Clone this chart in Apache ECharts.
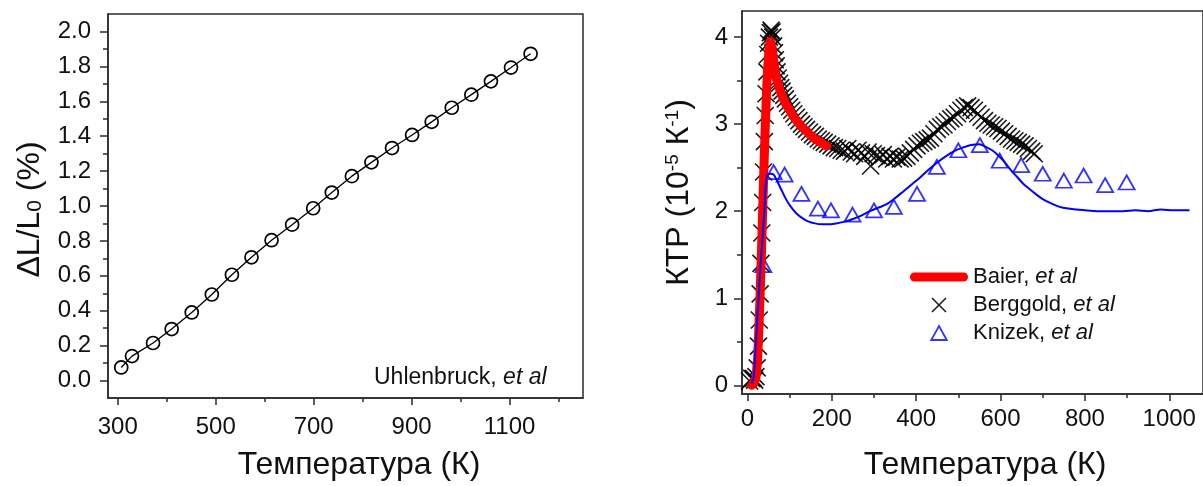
<!DOCTYPE html>
<html>
<head>
<meta charset="utf-8">
<script src="https://cdn.jsdelivr.net/npm/echarts@6/dist/echarts.min.js"></script>
<style>
html,body{margin:0;padding:0;background:#fff;}
#c{width:1203px;height:486px;}
</style>
</head>
<body>
<div id="c"></div>
<script>
// ---------- Left panel: Uhlenbruck, et al ----------
var uhlT  = [307, 329, 372, 410, 451, 492, 533, 573, 614, 656, 699, 737, 778, 818, 860, 901, 941, 982, 1022, 1062, 1103, 1143];
var uhlDL = [0.075, 0.14, 0.215, 0.295, 0.39, 0.493, 0.606, 0.706, 0.804, 0.893, 0.987, 1.077, 1.171, 1.25, 1.332, 1.407, 1.482, 1.563, 1.638, 1.714, 1.793, 1.872];

var leftXMajor = [300, 500, 700, 900, 1100];
var leftXMinor = [400, 600, 800, 1000, 1200];
var leftYMajor = [0, 0.2, 0.4, 0.6, 0.8, 1.0, 1.2, 1.4, 1.6, 1.8, 2.0];
var leftYMinor = [0.1, 0.3, 0.5, 0.7, 0.9, 1.1, 1.3, 1.5, 1.7, 1.9];

// ---------- Right panel ----------
var baierT = [10, 15, 20, 24, 27, 30, 33, 36, 39, 42, 45, 48, 51, 54, 57, 60, 63, 66, 70, 75, 80, 86, 92, 100, 110, 120, 130, 140, 150, 160, 170, 180, 188];
var baierK = [0.0, 0.02, 0.08, 0.3, 0.65, 1.05, 1.5, 2.0, 2.5, 2.95, 3.35, 3.65, 3.85, 3.95, 3.93, 3.82, 3.7, 3.6, 3.5, 3.42, 3.35, 3.28, 3.22, 3.16, 3.08, 3.02, 2.96, 2.92, 2.87, 2.83, 2.8, 2.77, 2.75];

var berggoldT = [5, 10, 14, 17, 20, 23, 26, 28, 30, 32, 34, 36, 38, 40, 42, 44, 46, 48, 50, 52, 54, 56, 58, 60, 62, 64, 66, 68, 70, 73, 76, 79, 82, 86, 90, 95, 100, 105, 110, 116, 122, 128, 134, 140, 147, 154, 161, 168, 175, 182, 190, 198, 206, 214, 222, 230, 238, 246, 254, 262, 270, 278, 286, 292, 298, 306, 314, 322, 330, 338, 346, 354, 362, 370, 378, 386, 394, 402, 410, 418, 426, 434, 442, 450, 458, 466, 474, 482, 490, 498, 506, 514, 522, 530, 538, 546, 554, 562, 570, 578, 586, 594, 602, 610, 618, 626, 634, 642, 650, 658, 666, 674, 680];
var berggoldK = [0.05, 0.08, 0.08, 0.06, 0.1, 0.2, 0.45, 0.75, 1.05, 1.4, 1.75, 2.1, 2.45, 2.8, 3.1, 3.35, 3.6, 3.8, 3.93, 4.0, 4.05, 4.08, 4.06, 4.0, 3.9, 3.82, 3.74, 3.67, 3.6, 3.53, 3.47, 3.42, 3.38, 3.33, 3.29, 3.24, 3.2, 3.16, 3.12, 3.08, 3.04, 3.0, 2.97, 2.94, 2.91, 2.88, 2.86, 2.83, 2.81, 2.79, 2.77, 2.75, 2.73, 2.72, 2.7, 2.69, 2.72, 2.68, 2.66, 2.7, 2.67, 2.63, 2.68, 2.52, 2.66, 2.64, 2.62, 2.65, 2.6, 2.63, 2.6, 2.62, 2.6, 2.61, 2.63, 2.67, 2.71, 2.75, 2.78, 2.8, 2.82, 2.84, 2.89, 2.94, 2.97, 2.99, 3.03, 3.06, 3.08, 3.12, 3.16, 3.19, 3.21, 3.19, 3.16, 3.12, 3.08, 3.04, 3.01, 2.99, 2.97, 2.95, 2.92, 2.89, 2.86, 2.83, 2.81, 2.79, 2.77, 2.75, 2.72, 2.69, 2.66];

var knizekLineT = [10, 15, 20, 25, 30, 35, 40, 44, 48, 55, 62, 70, 80, 90, 100, 115, 130, 145, 160, 175, 190, 210, 230, 250, 270, 290, 310, 330, 350, 370, 390, 410, 430, 450, 470, 490, 510, 530, 550, 565, 580, 595, 610, 625, 640, 655, 670, 685, 700, 720, 740, 760, 780, 800, 830, 860, 890, 920, 950, 980, 1010, 1048];
var knizekLineK = [0.02, 0.1, 0.5, 0.9, 1.3, 1.65, 2.0, 2.35, 2.42, 2.43, 2.42, 2.35, 2.25, 2.15, 2.07, 1.98, 1.92, 1.88, 1.86, 1.85, 1.85, 1.86, 1.88, 1.91, 1.95, 2.0, 2.04, 2.08, 2.15, 2.23, 2.31, 2.39, 2.48, 2.56, 2.63, 2.69, 2.73, 2.76, 2.77, 2.74, 2.7, 2.64, 2.56, 2.47, 2.39, 2.31, 2.25, 2.19, 2.14, 2.09, 2.05, 2.03, 2.02, 2.01, 2.0, 2.0, 2.0, 2.01, 2.0, 2.02, 2.01, 2.01];

var knizekT = [37.6, 62, 88, 128, 167, 198, 249, 300, 347, 402, 449, 500, 551, 598, 649, 700, 750, 797, 848, 899];
var knizekK = [1.38, 2.45, 2.42, 2.2, 2.03, 2.01, 1.96, 2.01, 2.05, 2.2, 2.51, 2.7, 2.76, 2.58, 2.53, 2.43, 2.35, 2.41, 2.3, 2.33];

var rightXMajor = [0, 200, 400, 600, 800, 1000];
var rightXMinor = [100, 300, 500, 700, 900];
var rightYMajor = [0, 1, 2, 3, 4];
var rightYMinor = [0.5, 1.5, 2.5, 3.5];

var legendNames = ['Baier', 'Berggold', 'Knizek'];

function zip(a, b) { return a.map(function (v, i) { return [v, b[i]]; }); }

var FONT = 'Liberation Sans, Arial, sans-serif';
var AX = '#2b2b2b';
var TXT = '#111';
var TICKFS = 24;
var TITLEFS = 32;

function majorX(grid, min, max, ticks, margin, name, gap, pad) {
  return {
    type: 'value', gridIndex: grid, min: min, max: max, position: 'bottom',
    axisLine: { show: true, onZero: false, lineStyle: { color: AX, width: 1.5 } },
    axisTick: { show: true, inside: false, length: 7, customValues: ticks, lineStyle: { color: AX, width: 1.5 } },
    axisLabel: { show: true, customValues: ticks, margin: margin, color: TXT, fontSize: TICKFS, fontFamily: FONT,
      formatter: function (v) { return String(v); } },
    splitLine: { show: false },
    name: name, nameLocation: 'middle', nameGap: gap,
    nameTextStyle: { color: TXT, fontSize: TITLEFS, fontFamily: FONT, padding: pad }
  };
}
function minorX(grid, min, max, ticks) {
  return {
    type: 'value', gridIndex: grid, min: min, max: max, position: 'bottom',
    axisLine: { show: false, onZero: false },
    axisTick: { show: true, inside: false, length: 4, customValues: ticks, lineStyle: { color: AX, width: 1.5 } },
    axisLabel: { show: false }, splitLine: { show: false }
  };
}
function majorY(grid, min, max, ticks, margin, fmt, name, gap, pad, rich) {
  return {
    type: 'value', gridIndex: grid, min: min, max: max, position: 'left',
    axisLine: { show: true, onZero: false, lineStyle: { color: AX, width: 1.5 } },
    axisTick: { show: true, inside: false, length: 8, customValues: ticks, lineStyle: { color: AX, width: 1.5 } },
    axisLabel: { show: true, customValues: ticks, margin: margin, color: TXT, fontSize: TICKFS, fontFamily: FONT, formatter: fmt },
    splitLine: { show: false },
    name: name, nameLocation: 'middle', nameGap: gap, nameRotate: 90,
    nameTextStyle: { color: TXT, fontSize: TITLEFS, fontFamily: FONT, padding: pad, rich: rich }
  };
}
function minorY(grid, min, max, ticks) {
  return {
    type: 'value', gridIndex: grid, min: min, max: max, position: 'left',
    axisLine: { show: false, onZero: false },
    axisTick: { show: true, inside: false, length: 5, customValues: ticks, lineStyle: { color: AX, width: 1.5 } },
    axisLabel: { show: false }, splitLine: { show: false }
  };
}

var chart = echarts.init(document.getElementById('c'), null, { renderer: 'canvas' });

var option = {
  backgroundColor: '#ffffff',
  animation: false,
  textStyle: { fontFamily: FONT },
  grid: [
    { left: 108, top: 14, width: 475, height: 388, show: true, borderColor: AX, borderWidth: 1.5, backgroundColor: 'transparent' },
    { left: 742, top: 11, width: 465, height: 383, show: true, borderColor: AX, borderWidth: 1.5, backgroundColor: 'transparent' }
  ],
  title: {
    text: '{n|Uhlenbruck, }{i|et al}',
    left: 374, top: 366, padding: 0,
    textStyle: {
      fontWeight: 'normal',
      rich: {
        n: { fontSize: 23, fontFamily: FONT, color: TXT, fontWeight: 'normal' },
        i: { fontSize: 23, fontFamily: FONT, color: TXT, fontStyle: 'italic', fontWeight: 'normal' }
      }
    }
  },
  legend: {
    orient: 'vertical', left: 910, top: 263, padding: 0, itemGap: 0,
    itemWidth: 58, itemHeight: 14, symbolKeepAspect: true,
    data: [
      { name: 'Baier', icon: 'path://M4.5,0H53.5A4.5,4.5,0,0,1,53.5,9H4.5A4.5,4.5,0,0,1,4.5,0Z', itemStyle: { color: '#ff0000', borderWidth: 0 } },
      { name: 'Berggold', icon: 'path://M0,0L10,10M10,0L0,10', itemStyle: { color: 'rgba(0,0,0,0)', borderColor: '#000', borderWidth: 1.5 } },
      { name: 'Knizek', icon: 'path://M5,0L10,9L0,9Z', itemStyle: { color: 'rgba(0,0,0,0)', borderColor: '#0000ff', borderWidth: 1.8 } }
    ],
    formatter: function (n) { return '{n|' + n + ', }{i|et al}'; },
    textStyle: {
      lineHeight: 28,
      rich: {
        n: { fontSize: 22, fontFamily: FONT, color: TXT, lineHeight: 28 },
        i: { fontSize: 22, fontFamily: FONT, color: TXT, fontStyle: 'italic', lineHeight: 28 }
      }
    }
  },
  xAxis: [
    majorX(0, 280, 1250, leftXMajor, 17, 'Температура (К)', 51, [0, 0, 0, 27]),
    minorX(0, 280, 1250, leftXMinor),
    majorX(1, -13, 1080, rightXMajor, 13, 'Температура (К)', 55, [0, 0, 0, 25]),
    minorX(1, -13, 1080, rightXMinor)
  ],
  yAxis: [
    majorY(0, -0.1, 2.1, leftYMajor, 17, function (v) { return v.toFixed(1); },
      'ΔL/L{sub|0} (%)', 62, [0, 7, 0, 0],
      { sub: { fontSize: 21, fontFamily: FONT, color: TXT, verticalAlign: 'bottom', lineHeight: 21 } }),
    minorY(0, -0.1, 2.1, leftYMinor),
    majorY(1, -0.1, 4.3, rightYMajor, 14, function (v) { return String(v); },
      'КТР (10{sup|-5} К{sup|-1})', 47, [0, 0, 0, 20],
      { sup: { fontSize: 19, fontFamily: FONT, color: TXT, verticalAlign: 'top', lineHeight: 19 } }),
    minorY(1, -0.1, 4.3, rightYMinor)
  ],
  series: [
    {
      name: 'Uhlenbruck', type: 'line', xAxisIndex: 0, yAxisIndex: 0,
      data: zip(uhlT, uhlDL),
      symbol: 'circle', symbolSize: 13, showSymbol: true,
      lineStyle: { color: '#000', width: 1.3 },
      itemStyle: { color: 'rgba(0,0,0,0)', borderColor: '#000', borderWidth: 1.7 }
    },
    {
      name: 'Baier', type: 'line', xAxisIndex: 2, yAxisIndex: 2,
      data: zip(baierT, baierK), showSymbol: false, symbol: 'none',
      lineStyle: { color: '#ff0000', width: 9, cap: 'round', join: 'round' },
      itemStyle: { color: '#ff0000' }
    },
    {
      name: 'Berggold', type: 'scatter', xAxisIndex: 2, yAxisIndex: 2,
      data: zip(berggoldT, berggoldK),
      symbol: 'path://M0,0L10,10M10,0L0,10', symbolSize: 17,
      itemStyle: { color: 'rgba(0,0,0,0)', borderColor: '#000', borderWidth: 1.6, opacity: 0.9 }
    },
    {
      name: 'Knizek calc', type: 'line', xAxisIndex: 2, yAxisIndex: 2,
      data: zip(knizekLineT, knizekLineK), showSymbol: false, symbol: 'none', smooth: 0.3,
      lineStyle: { color: '#0000ff', width: 2 }, itemStyle: { color: '#0000ff' }
    },
    {
      name: 'Knizek', type: 'scatter', xAxisIndex: 2, yAxisIndex: 2,
      data: zip(knizekT, knizekK),
      symbol: 'triangle', symbolSize: [16, 14],
      itemStyle: { color: 'rgba(0,0,0,0)', borderColor: '#0000ff', borderWidth: 1.8 }
    }
  ]
};
chart.setOption(option);
</script>
</body>
</html>
